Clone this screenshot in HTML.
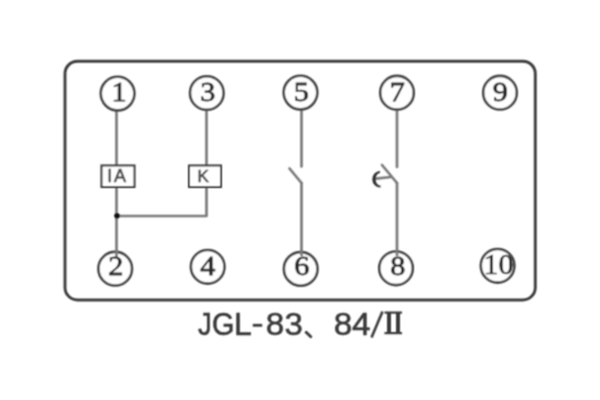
<!DOCTYPE html>
<html><head><meta charset="utf-8">
<style>
html,body{margin:0;padding:0;background:#fff;width:600px;height:400px;overflow:hidden}
svg{display:block}
.d{font-family:"Liberation Serif",serif;font-size:27px;fill:#2b2b2b;stroke:#2b2b2b;stroke-width:0.8px}
.b{font-family:"Liberation Sans",sans-serif;font-size:17px;fill:#4a4a4a;stroke:#4a4a4a;stroke-width:0.7px}
.t{font-family:"Liberation Sans",sans-serif;font-size:32px;fill:#383838;stroke:#383838;stroke-width:0.55px}
</style></head>
<body>
<svg width="600" height="400" viewBox="0 0 600 400">
<defs><filter id="bl" filterUnits="userSpaceOnUse" x="0" y="0" width="600" height="400"><feConvolveMatrix order="3" kernelMatrix="1 2 1 2 4 2 1 2 1" divisor="16" edgeMode="none"/></filter></defs>
<rect x="0" y="0" width="600" height="400" fill="#fff"/>
<g filter="url(#bl)">
<!-- outer frame -->
<rect x="65" y="61.2" width="470.3" height="238.8" rx="12.5" ry="12.5" fill="none" stroke="#3c3c3c" stroke-width="2.9"/>

<!-- wires -->
<g stroke="#7a7a7a" stroke-width="2.7" fill="none" stroke-linecap="round">
  <line x1="116.5" y1="110" x2="116.5" y2="165"/>
  <line x1="116.5" y1="188" x2="116.5" y2="257"/>
  <line x1="206.5" y1="110" x2="206.5" y2="165"/>
  <polyline points="206.5,188 206.5,216 116.5,216" stroke-linejoin="round"/>
  <!-- 5-6 -->
  <line x1="301.5" y1="110" x2="301.5" y2="166.5"/>
  <line x1="289.5" y1="168.5" x2="301.5" y2="183"/>
  <line x1="301.5" y1="183" x2="301.5" y2="256"/>
  <!-- 7-8 -->
  <line x1="397" y1="110" x2="397" y2="167"/>
  <line x1="382" y1="165" x2="397" y2="183"/>
  <line x1="397" y1="183" x2="397" y2="256"/>
  <line x1="376" y1="178.6" x2="391" y2="177"/>
</g>
<path d="M380 171 A8 8.3 0 0 0 380.5 187.6 L380.5 185.6 A4.6 6.3 0 0 1 380 173 Z" fill="#333"/>
<circle cx="117" cy="215.7" r="2.8" fill="#111"/>

<!-- boxes -->
<rect x="101.5" y="165.5" width="33" height="21.5" fill="#fff" stroke="#333" stroke-width="2"/>
<rect x="189" y="165.5" width="32" height="21.5" fill="#fff" stroke="#333" stroke-width="2"/>
<text class="b" x="107.3" y="182.3" letter-spacing="1.6" style="font-size:18px">IA</text>
<text class="b" x="197.4" y="182.3">K</text>

<!-- terminals -->
<g fill="#fff" stroke="#444" stroke-width="2.6">
  <circle cx="117.6" cy="93.6" r="16.8"/>
  <circle cx="206.8" cy="93" r="16.8"/>
  <circle cx="300.5" cy="92.6" r="16.8"/>
  <circle cx="397" cy="92.7" r="16.8"/>
  <circle cx="500" cy="92.7" r="16.8"/>
  <circle cx="115.2" cy="268.7" r="16.8"/>
  <circle cx="207.7" cy="266.8" r="16.8"/>
  <circle cx="300.7" cy="268.9" r="16.8"/>
  <circle cx="396" cy="268.3" r="16.8"/>
  <circle cx="497.6" cy="265.8" r="16.8"/>
</g>
<g stroke="#7a7a7a" stroke-width="2.7">
  <line x1="116.5" y1="250" x2="116.5" y2="257"/>
  <line x1="301.5" y1="250" x2="301.5" y2="256"/>
  <line x1="397" y1="250" x2="397" y2="256"/>
</g>
<text class="d" text-anchor="middle" transform="translate(119.16,101.4) scale(1.12,1)">1</text>
<text class="d" text-anchor="middle" transform="translate(207.82,101.4) scale(1.12,1)">3</text>
<text class="d" text-anchor="middle" transform="translate(301.36,101.4) scale(1.12,1)">5</text>
<text class="d" text-anchor="middle" transform="translate(397.36,101.4) scale(1.12,1)">7</text>
<text class="d" text-anchor="middle" transform="translate(500.38,101.4) scale(1.12,1)">9</text>
<text class="d" text-anchor="middle" transform="translate(115.78,274.7) scale(1.12,1)">2</text>
<text class="d" text-anchor="middle" transform="translate(207.72,274.9) scale(1.12,1)">4</text>
<text class="d" text-anchor="middle" transform="translate(301.72,274.7) scale(1.12,1)">6</text>
<text class="d" text-anchor="middle" transform="translate(397.72,274.7) scale(1.12,1)">8</text>
<text class="d" x="483.5" y="274" style="font-size:30px;stroke-width:0.6px" textLength="30" lengthAdjust="spacingAndGlyphs">10</text>

<!-- caption -->
<g class="t">
<text transform="translate(197.94,334.5) scale(0.86,1)">J</text>
<text transform="translate(212.00,334.5) scale(0.9,1)">G</text>
<text transform="translate(234.05,334.5) scale(1.0,1)">L</text>
<text transform="translate(265.76,334.5) scale(1.04,1)">8</text>
<text transform="translate(284.47,334.5) scale(1.03,1)">3</text>
<text transform="translate(333.76,334.5) scale(1.04,1)">8</text>
<text transform="translate(352.06,334.5) scale(1.04,1)">4</text>
</g>
<rect x="252.8" y="323.9" width="9.4" height="2.8" fill="#3a3a3a"/>
<path d="M306.2 332.2 L310.8 336.8" stroke="#3a3a3a" stroke-width="2.8" stroke-linecap="round" fill="none"/>
<line x1="382.5" y1="311.5" x2="371.5" y2="337.5" stroke="#3a3a3a" stroke-width="2.6"/>
<g fill="#3a3a3a">
  <rect x="387" y="312.5" width="4" height="21"/>
  <rect x="396" y="312.5" width="4" height="21"/>
  <rect x="384.5" y="311.5" width="17.5" height="2.2"/>
  <rect x="384.5" y="332" width="17.5" height="2.2"/>
</g>
</g>
</svg>
</body></html>
